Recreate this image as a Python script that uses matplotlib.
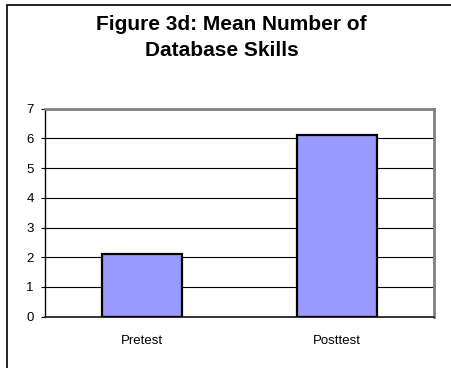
import matplotlib
matplotlib.use("Agg")
import matplotlib.pyplot as plt
from matplotlib.patches import Rectangle

plt.rcParams['font.family'] = ['Liberation Sans', 'DejaVu Sans']

groups = ['Pretest', 'Posttest']
mean_skills = [2.1, 6.1]
y_ticks = [0, 1, 2, 3, 4, 5, 6, 7]

W, H = 451, 368
fig = plt.figure(figsize=(W / 100, H / 100), dpi=100)

# outer chart frame (runs off the right and bottom edges)
fig.patches.append(Rectangle((7 / W, -0.05), 1.1, (H - 5) / H + 0.05,
                             transform=fig.transFigure, fill=False,
                             edgecolor='black', linewidth=1.2))

fig.text(231 / W, (H - 24) / H, 'Figure 3d: Mean Number of', ha='center', va='center',
         fontsize=15, fontweight='bold')
fig.text(222 / W, (H - 50.5) / H, 'Database Skills', ha='center', va='center',
         fontsize=15, fontweight='bold')

ax = fig.add_axes([45 / W, (H - 316.7) / H, 389 / W, 208 / H])
ax.bar(range(len(groups)), mean_skills, width=0.41, color='#9999ff',
       edgecolor='black', linewidth=1.6, zorder=3)

ax.set_xlim(-0.5, 1.5)
ax.set_ylim(0, 7)
ax.set_yticks(y_ticks)
ax.set_xticks(range(len(groups)))
ax.set_xticklabels(groups)
ax.tick_params(axis='y', labelsize=9.5, length=3, width=0.8, pad=5)
ax.tick_params(axis='x', labelsize=9.5, length=0, pad=13)
ax.grid(axis='y', color='black', linewidth=0.8, zorder=0)

ax.spines['left'].set_color('black')
ax.spines['bottom'].set_color('#333333')
ax.spines['left'].set_linewidth(1.0)
ax.spines['bottom'].set_linewidth(1.4)
ax.spines['top'].set_color('#808080')
ax.spines['right'].set_color('#808080')
ax.spines['top'].set_linewidth(2.0)
ax.spines['right'].set_linewidth(2.0)

fig.savefig('out.png', dpi=100)
